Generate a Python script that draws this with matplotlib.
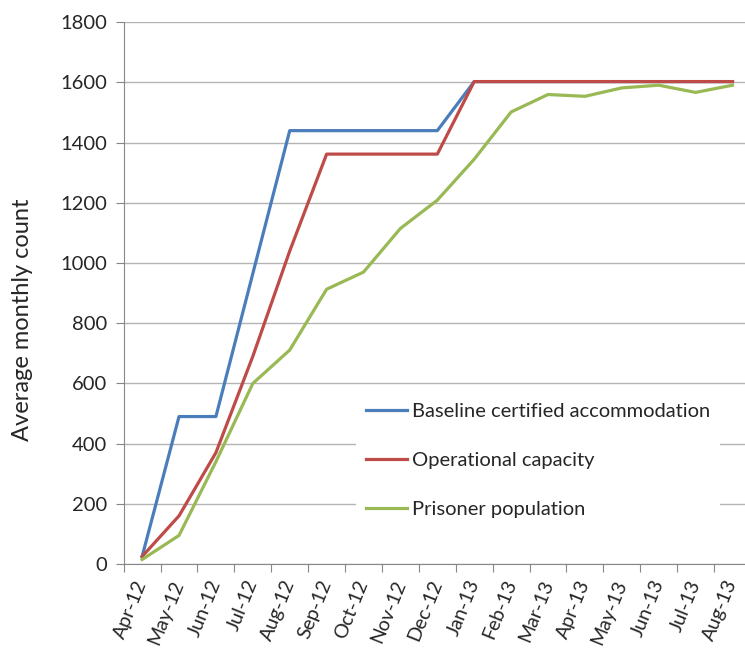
import matplotlib.pyplot as plt

# months on the category axis
months = ['Apr-12', 'May-12', 'Jun-12', 'Jul-12', 'Aug-12', 'Sep-12', 'Oct-12',
          'Nov-12', 'Dec-12', 'Jan-13', 'Feb-13', 'Mar-13', 'Apr-13', 'May-13',
          'Jun-13', 'Jul-13', 'Aug-13']

# series
baseline = [25, 490, 490, 965, 1440, 1440, 1440, 1440, 1440, 1603, 1603,
            1603, 1603, 1603, 1603, 1603, 1603]
operational = [25, 160, 370, 690, 1040, 1362, 1362, 1362, 1362, 1603, 1603,
               1603, 1603, 1603, 1603, 1603, 1603]
prisoners = [15, 95, 340, 600, 711, 913, 970, 1115, 1209, 1345, 1502,
             1560, 1554, 1582, 1591, 1567, 1591]

plt.rcParams['font.family'] = ['Lato', 'DejaVu Sans']
txt = '#262626'

fig = plt.figure(figsize=(7.45, 6.48), dpi=100)
# axes runs a little past the right edge, as in the original crop
ax = fig.add_axes([0.166, 0.1296, 0.842, 0.836])

x = list(range(len(months)))
ax.plot(x, baseline, color='#4a7ebb', lw=2.3, label='Baseline certified accommodation')
ax.plot(x, operational, color='#be4b48', lw=2.3, label='Operational capacity')
ax.plot(x, prisoners, color='#98b954', lw=2.3, label='Prisoner population')

ax.set_xlim(-0.5, len(months) - 0.5)
ax.set_ylim(0, 1800)
ax.set_yticks(range(0, 1801, 200))
# ticks sit between categories, labels centred on them
ax.set_xticks([i - 0.5 for i in x], minor=False)
ax.set_xticklabels([])
ax.set_xticks(x, minor=True)
ax.set_xticklabels(months, minor=True, rotation=68, ha='right', va='center',
                   rotation_mode='anchor', fontsize=14, color=txt)
ax.tick_params(axis='x', which='minor', length=0, pad=12)
ax.tick_params(axis='x', which='major', length=6, color='#878787')
ax.tick_params(axis='y', length=6, color='#878787', labelsize=14.5,
               labelcolor=txt, pad=6)

ax.grid(axis='y', color='#b4b4b4', lw=1)
ax.set_axisbelow(True)
for s in ['top', 'right']:
    ax.spines[s].set_visible(False)
for s in ['left', 'bottom']:
    ax.spines[s].set_color('#878787')

ax.set_ylabel('Average monthly count', fontsize=17, color=txt)
ax.yaxis.set_label_coords(-0.145, 0.45)

leg = ax.legend(loc='upper left', bbox_to_anchor=(0.355, 0.335), frameon=True,
                fontsize=14.5, handlelength=2.0, handletextpad=0.25,
                labelspacing=1.58, borderpad=0.5, fancybox=False)
leg.get_frame().set_edgecolor('none')
leg.get_frame().set_facecolor('white')
leg.get_frame().set_alpha(1)
for t in leg.get_texts():
    t.set_color(txt)

fig.savefig('out.png', dpi=100)
